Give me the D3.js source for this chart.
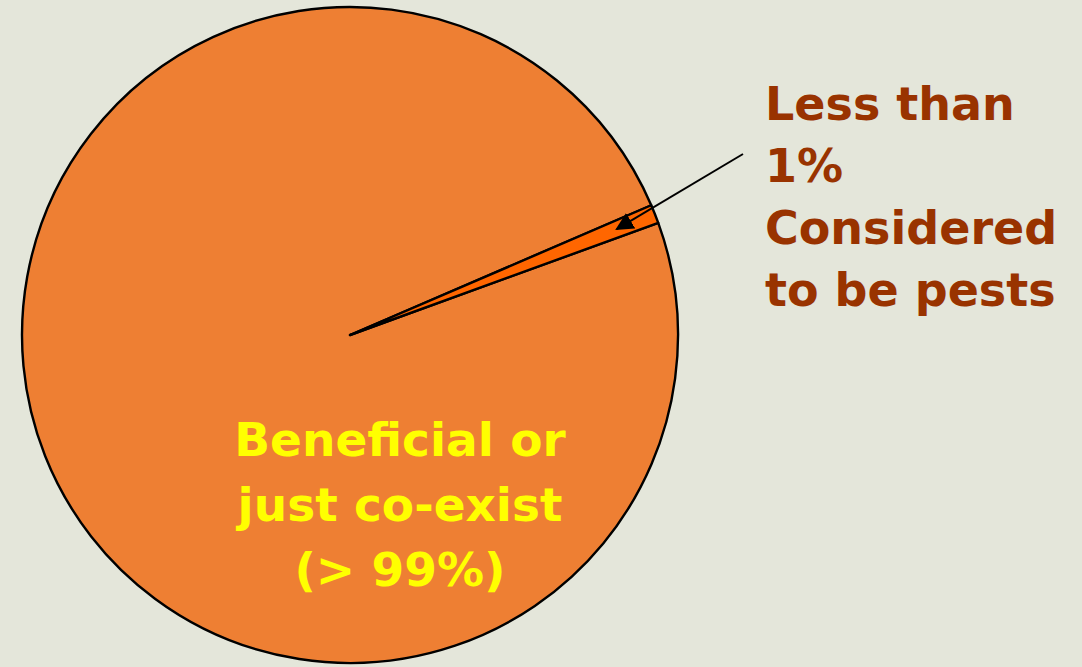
<!DOCTYPE html>
<html lang="en">
<head>
  <meta charset="UTF-8">
  <title>Pests pie</title>
  <script src="https://d3js.org/d3.v7.min.js"></script>
  <style>
    html, body { margin: 0; padding: 0; background: #e4e6da; }
    .lbl { font-family: "Comic Sans MS", "DejaVu Sans", sans-serif; font-weight: bold; }
  </style>
</head>
<body>
  <svg class="chart" width="1082" height="667"></svg>
  <script>
    // data
    const categories = ["Considered to be pests", "Beneficial or just co-exist"];
    const values = [0.92, 99.08];
    const pestLines = ["Less than", "1%", "Considered", "to be pests"];
    const mainLines = ["Beneficial or", "just co-exist", "(> 99%)"];

    const svg = d3.select('svg.chart');
    const cx = 350, cy = 335, radius = 328;
    const startDeg = 66.7;
    const colors = d3.scaleOrdinal().domain(categories).range(["#ff6600", "#ee7f33"]);

    const pie = d3.pie().sort(null)
      .value(d => d.value)
      .startAngle(startDeg * Math.PI / 180)
      .endAngle(startDeg * Math.PI / 180 + 2 * Math.PI);
    const arcs = pie(categories.map((c, i) => ({ name: c, value: values[i] })));
    const arc = d3.arc().innerRadius(0).outerRadius(radius);

    const g = svg.append('g').attr('transform', `translate(${cx},${cy})`);
    // big slice first, small slice on top so its edges show
    g.selectAll('path.slice')
      .data(arcs.slice().reverse())
      .join('path')
      .attr('class', 'slice')
      .attr('d', arc)
      .attr('fill', d => colors(d.data.name))
      .attr('stroke', '#000')
      .attr('stroke-width', 2.4)
      .attr('stroke-linejoin', 'round');

    // arrow pointing into the small slice
    svg.append('defs').append('marker')
      .attr('id', 'head')
      .attr('viewBox', '0 0 10 10')
      .attr('refX', 9).attr('refY', 5)
      .attr('markerWidth', 9).attr('markerHeight', 9)
      .attr('markerUnits', 'strokeWidth')
      .attr('orient', 'auto')
      .append('path')
      .attr('d', 'M0,0 L10,5 L0,10 z')
      .attr('fill', '#000');

    const tip = d3.arc().innerRadius(radius * 0.875).outerRadius(radius * 0.875).centroid(arcs[0]);
    svg.append('line')
      .attr('x1', 743).attr('y1', 154)
      .attr('x2', cx + tip[0]).attr('y2', cy + tip[1])
      .attr('stroke', '#000')
      .attr('stroke-width', 2)
      .attr('marker-end', 'url(#head)');

    // labels
    svg.append('g').selectAll('text')
      .data(pestLines)
      .join('text')
      .attr('class', 'lbl')
      .attr('x', 765)
      .attr('y', (d, i) => 120 + i * 62)
      .attr('font-size', 46)
      .attr('fill', '#993300')
      .text(d => d);

    svg.append('g').selectAll('text')
      .data(mainLines)
      .join('text')
      .attr('class', 'lbl')
      .attr('x', 400)
      .attr('y', (d, i) => 456 + i * 65)
      .attr('text-anchor', 'middle')
      .attr('font-size', 47)
      .attr('fill', '#ffff00')
      .text(d => d);
  </script>
</body>
</html>
